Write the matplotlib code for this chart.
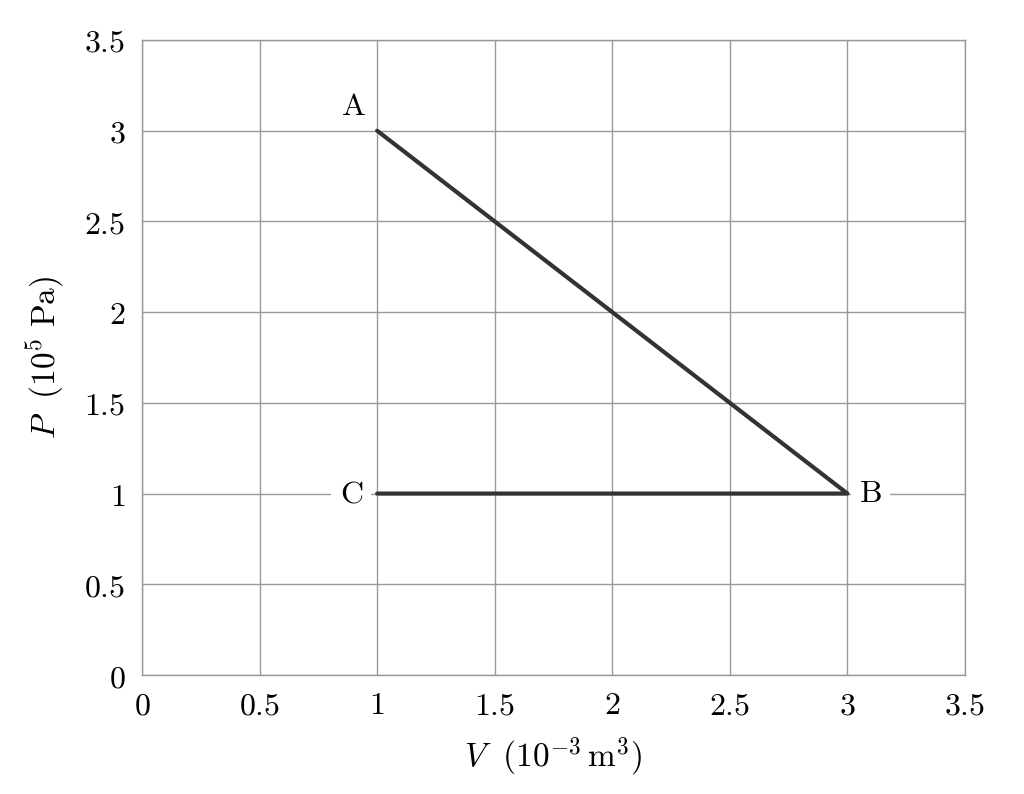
import matplotlib
matplotlib.use("Agg")
import matplotlib.pyplot as plt
from matplotlib.ticker import FuncFormatter

plt.rcParams['mathtext.fontset'] = 'cm'
plt.rcParams['font.family'] = ['DejaVu Serif']

# data
volume = [1, 3, 1]      # A, B, C (10^-3 m^3)
pressure = [3, 1, 1]    # A, B, C (10^5 Pa)
point_labels = ['A', 'B', 'C']
ticks = [0, 0.5, 1, 1.5, 2, 2.5, 3, 3.5]

fig = plt.figure(figsize=(10.24, 7.94), dpi=100)
ax = fig.add_axes([142/1024, 1-675/794, (965-142)/1024, (675-40)/794])

ax.plot(volume, pressure, color='#333333', lw=3, solid_capstyle='round', solid_joinstyle='round', zorder=3)

ax.set_xlim(0, 3.5)
ax.set_ylim(0, 3.5)
ax.set_xticks(ticks)
ax.set_yticks(ticks)
fmt = FuncFormatter(lambda v, p: r'$\mathrm{%g}$' % v)
ax.xaxis.set_major_formatter(fmt)
ax.yaxis.set_major_formatter(fmt)
ax.tick_params(length=0, labelsize=23)
ax.tick_params(axis='x', pad=11)
ax.tick_params(axis='y', pad=12)
ax.grid(True, color='#999999', lw=1)
ax.set_axisbelow(True)
for s in ax.spines.values():
    s.set_color('#999999')
    s.set_linewidth(1)

offsets = {'A': (-0.05, 0.05, 'right', 'bottom'),
           'B': (0.05, 0.0, 'left', 'center'),
           'C': (-0.06, 0.0, 'right', 'center')}
for v, p, lab in zip(volume, pressure, point_labels):
    dx, dy, ha, va = offsets[lab]
    ax.text(v + dx, p + dy, r'$\mathrm{%s}$' % lab, fontsize=23, ha=ha, va=va,
            bbox=dict(facecolor='white', edgecolor='none', pad=6), zorder=4)

ax.set_xlabel(r'$V\ \ (10^{-3}\,\mathrm{m}^{3})$', fontsize=24, labelpad=10)
ax.set_ylabel(r'$P\ \ (10^{5}\ \mathrm{Pa})$', fontsize=24, labelpad=12)

fig.savefig('out.png', dpi=100, facecolor='white')
